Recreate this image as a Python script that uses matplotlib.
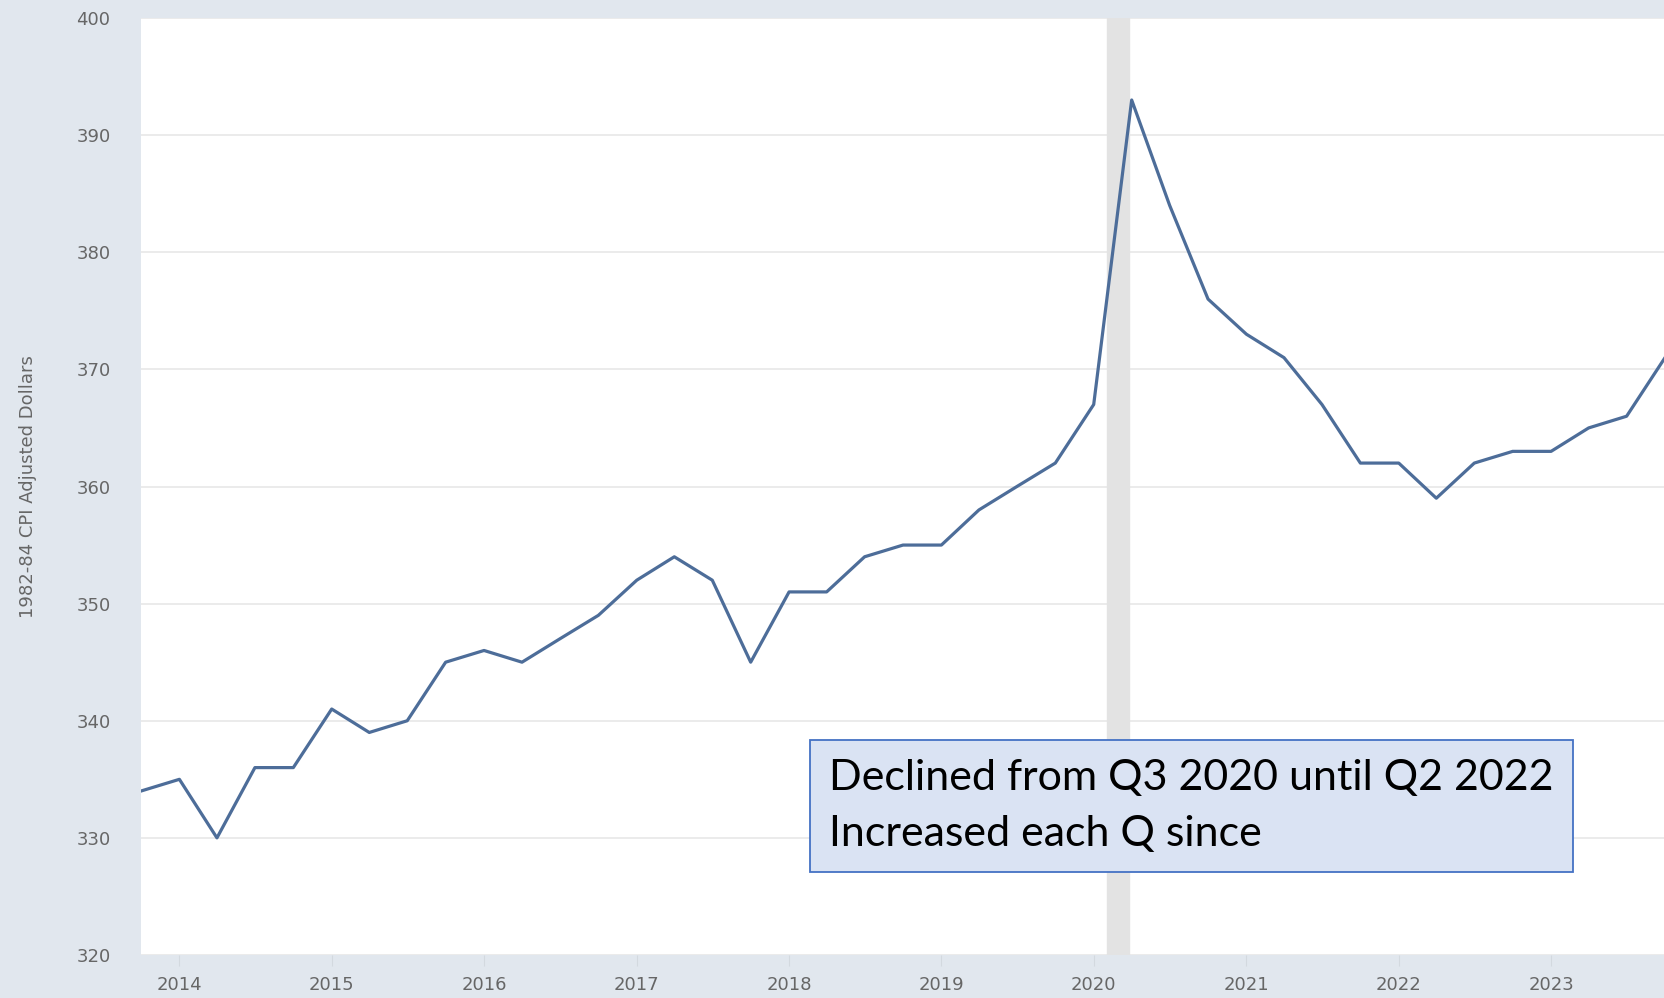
import numpy as np
import pandas as pd
import matplotlib
matplotlib.use("Agg")
import matplotlib.pyplot as plt
import matplotlib.dates as mdates

# quarterly values, 2013 Q4 .. 2023 Q4
quarters = pd.date_range("2013-10-01", "2023-10-01", freq="QS")
values = [334, 335, 330, 336, 336, 341, 339, 340, 345, 346,
          345, 347, 349, 352, 354, 352, 345, 351, 351, 354,
          355, 355, 358, 360, 362, 367, 393, 384, 376, 373,
          371, 367, 362, 362, 359, 362, 363, 363, 365, 366,
          371]
recession = (pd.Timestamp("2020-02-01"), pd.Timestamp("2020-03-25"))
year_ticks = [pd.Timestamp(f"{y}-01-01") for y in range(2014, 2024)]
y_ticks = [320, 330, 340, 350, 360, 370, 380, 390, 400]
note = "Declined from Q3 2020 until Q2 2022\nIncreased each Q since"

BG = "#e1e7ee"
LINE = "#4d6d99"
TXT = "#666666"

fig = plt.figure(figsize=(16.65, 9.98), dpi=100, facecolor=BG)
ax = fig.add_axes([141 / 1665, 1 - 955 / 998, 1 - 141 / 1665, (955 - 18) / 998])
ax.set_facecolor("white")

ax.axvspan(recession[0], recession[1], color="#e3e3e3", zorder=1)
ax.plot(quarters, values, color=LINE, lw=2.3, zorder=3)

ax.set_xlim(quarters[0], quarters[-1])
ax.set_ylim(320, 400)
ax.set_yticks(y_ticks)
ax.set_xticks(year_ticks)
ax.xaxis.set_major_formatter(mdates.DateFormatter("%Y"))
ax.grid(axis="y", color="#e8e8e8", lw=1.2, zorder=0)
ax.set_axisbelow(True)
for s in ax.spines.values():
    s.set_visible(False)

ax.tick_params(axis="y", length=0, pad=22, labelsize=13, labelcolor=TXT)
ax.tick_params(axis="x", length=8, color="#d3d9df", pad=7, labelsize=13, labelcolor=TXT)
ax.set_ylabel("1982-84 CPI Adjusted Dollars", fontsize=13, color=TXT, labelpad=28)

fig.text(829 / 1665, 1 - 806 / 998, note, fontsize=31, family=["Lato", "DejaVu Sans"],
         color="black", va="center", ha="left", linespacing=1.55,
         bbox=dict(boxstyle="square,pad=0.45", facecolor="#dae3f3", edgecolor="#4472c4", lw=1.3))

fig.savefig("out.png", dpi=100, facecolor=BG)
